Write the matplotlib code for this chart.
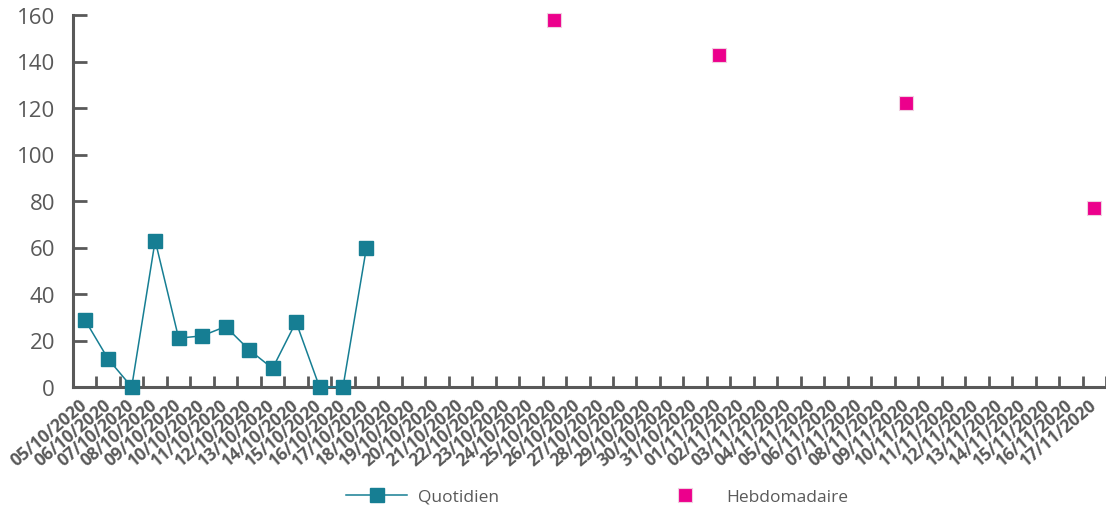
import matplotlib
matplotlib.use("Agg")
import matplotlib.pyplot as plt
from matplotlib.ticker import FixedLocator

plt.rcParams['font.family'] = ['Open Sans', 'DejaVu Sans']

dates = [
    "05/10/2020", "06/10/2020", "07/10/2020", "08/10/2020", "09/10/2020",
    "10/10/2020", "11/10/2020", "12/10/2020", "13/10/2020", "14/10/2020",
    "15/10/2020", "16/10/2020", "17/10/2020", "18/10/2020", "19/10/2020",
    "20/10/2020", "21/10/2020", "22/10/2020", "23/10/2020", "24/10/2020",
    "25/10/2020", "26/10/2020", "27/10/2020", "28/10/2020", "29/10/2020",
    "30/10/2020", "31/10/2020", "01/11/2020", "02/11/2020", "03/11/2020",
    "04/11/2020", "05/11/2020", "06/11/2020", "07/11/2020", "08/11/2020",
    "09/11/2020", "10/11/2020", "11/11/2020", "12/11/2020", "13/11/2020",
    "14/11/2020", "15/11/2020", "16/11/2020", "17/11/2020",
]

quotidien_dates = dates[:13]
quotidien = [29, 12, 0, 63, 21, 22, 26, 16, 8, 28, 0, 0, 60]

hebdo_dates = ["25/10/2020", "01/11/2020", "09/11/2020", "17/11/2020"]
hebdomadaire = [158, 143, 122, 77]

y_ticks = [0, 20, 40, 60, 80, 100, 120, 140, 160]

TEAL = "#167E93"
PINK = "#EC008C"
GREY = "#595959"

fig = plt.figure(figsize=(11.06, 5.10), dpi=100)
ax = fig.add_axes([73 / 1106, 1 - 388 / 510, 1033 / 1106, 372 / 510])

xq = [dates.index(d) for d in quotidien_dates]
xh = [dates.index(d) for d in hebdo_dates]

ax.plot(xq, quotidien, color=TEAL, lw=1.1, marker='s', markersize=9.8,
        markerfacecolor=TEAL, markeredgecolor=TEAL, clip_on=False, zorder=3,
        label="Quotidien")
ax.plot(xh, hebdomadaire, linestyle='none', marker='s', markersize=9.6,
        markerfacecolor=PINK, markeredgecolor="#F0D0E0", markeredgewidth=0.8,
        clip_on=False, zorder=3, label="Hebdomadaire")

ax.set_xlim(-0.5, len(dates) - 0.5)
ax.set_ylim(0, 160)

ax.set_xticks(range(len(dates)))
ax.set_xticklabels(dates, rotation=40, ha='right', va='center',
                   rotation_mode='anchor', fontsize=12.5, fontweight='bold',
                   color=GREY)
ax.tick_params(axis='x', which='major', length=0, pad=11)
ax.xaxis.set_minor_locator(FixedLocator([i - 0.5 for i in range(len(dates) + 1)]))
ax.tick_params(axis='x', which='minor', direction='in', length=8, width=2,
               color=GREY)

ax.set_yticks(y_ticks)
ax.tick_params(axis='y', direction='in', length=10, width=2, color=GREY,
               labelsize=16, labelcolor=GREY, pad=13)

for side in ('top', 'right'):
    ax.spines[side].set_visible(False)
for side in ('left', 'bottom'):
    ax.spines[side].set_color(GREY)
    ax.spines[side].set_linewidth(2.2)

fig.legend(loc='center', bbox_to_anchor=(0.54, 0.024), ncol=2, frameon=False,
           fontsize=12.5, labelcolor=GREY, handlelength=3.5,
           handletextpad=0.6, columnspacing=9.0, borderpad=0.2)

fig.savefig("out.png", dpi=100)
